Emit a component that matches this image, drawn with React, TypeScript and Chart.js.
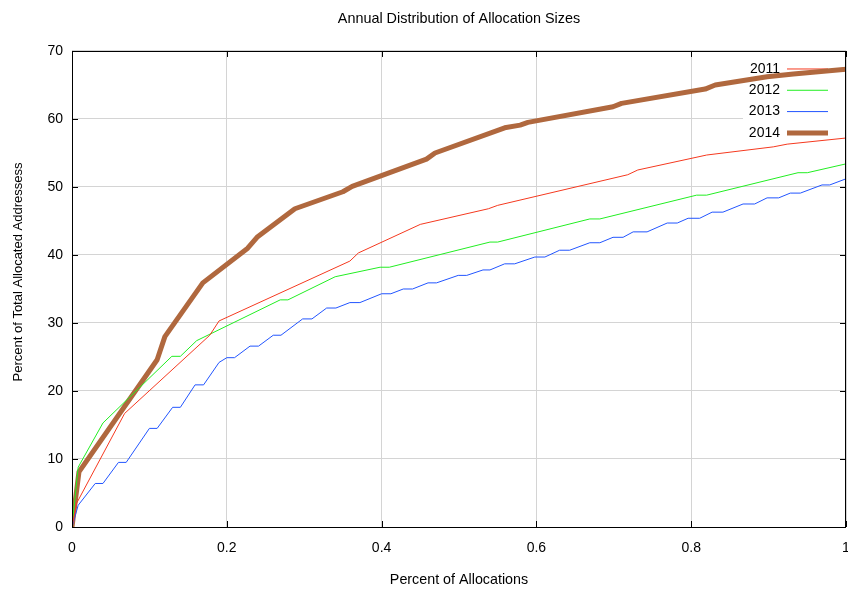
import React, { useEffect, useRef } from "react";
import { Chart, registerables } from "chart.js";

Chart.register(...registerables);

const titleText = "Annual Distribution of Allocation Sizes";
const xAxisTitle = "Percent of Allocations";
const yAxisTitle = "Percent of Total Allocated Addressess";

const seriesLabels = ["2011", "2012", "2013", "2014"];

const x2011 = [0, 0.006, 0.068, 0.178, 0.19, 0.359, 0.37, 0.45, 0.538, 0.55, 0.718, 0.731, 0.82, 0.906, 0.924, 1.0];
const y2011 = [0, 3.5, 16.7, 28.2, 30.3, 39.1, 40.3, 44.5, 46.8, 47.3, 51.8, 52.5, 54.7, 55.9, 56.3, 57.2];

const x2012 = [0, 0.008, 0.04, 0.129, 0.14, 0.161, 0.269, 0.279, 0.34, 0.398, 0.41, 0.54, 0.55, 0.669, 0.682, 0.807, 0.82, 0.938, 0.95, 1.0];
const y2012 = [0, 8.8, 15.3, 25.1, 25.1, 27.4, 33.4, 33.4, 36.8, 38.2, 38.2, 41.9, 41.9, 45.3, 45.3, 48.8, 48.8, 52.1, 52.1, 53.4];

const x2013 = [0, 0.008, 0.03, 0.04, 0.06, 0.07, 0.1, 0.11, 0.13, 0.14, 0.159, 0.17, 0.19, 0.2, 0.21, 0.23, 0.241, 0.26, 0.27, 0.298, 0.31, 0.329, 0.341, 0.359, 0.372, 0.4, 0.412, 0.428, 0.44, 0.46, 0.471, 0.499, 0.51, 0.531, 0.54, 0.559, 0.572, 0.598, 0.611, 0.63, 0.643, 0.669, 0.682, 0.699, 0.712, 0.725, 0.743, 0.769, 0.782, 0.796, 0.811, 0.827, 0.841, 0.867, 0.882, 0.898, 0.913, 0.928, 0.941, 0.969, 0.979, 1.0];
const y2013 = [0, 3.2, 6.4, 6.4, 9.5, 9.5, 14.5, 14.5, 17.6, 17.6, 20.9, 20.9, 24.2, 24.9, 24.9, 26.6, 26.6, 28.2, 28.2, 30.6, 30.6, 32.2, 32.2, 33.0, 33.0, 34.3, 34.3, 35.0, 35.0, 35.9, 35.9, 37.0, 37.0, 37.8, 37.8, 38.7, 38.7, 39.7, 39.7, 40.7, 40.7, 41.8, 41.8, 42.6, 42.6, 43.4, 43.4, 44.7, 44.7, 45.4, 45.4, 46.3, 46.3, 47.5, 47.5, 48.4, 48.4, 49.1, 49.1, 50.3, 50.3, 51.2];

const x2014 = [0, 0.009, 0.11, 0.12, 0.169, 0.227, 0.239, 0.288, 0.35, 0.362, 0.458, 0.469, 0.559, 0.579, 0.589, 0.699, 0.71, 0.818, 0.831, 0.898, 0.932, 1.0];
const y2014 = [0, 8.1, 24.6, 28.0, 35.9, 41.0, 42.6, 46.8, 49.3, 50.1, 54.1, 55.0, 58.7, 59.1, 59.5, 61.8, 62.3, 64.4, 65.0, 66.2, 66.6, 67.3];

const xTicks = [0, 0.2, 0.4, 0.6, 0.8, 1];
const yTicks = [0, 10, 20, 30, 40, 50, 60, 70];

const colors = ["#f5391f", "#22ee22", "#2255ff", "#b0683e"];
const widths = [1, 1, 1, 5];

const FONT = "'Liberation Sans', Arial, Helvetica, sans-serif";

function zip(xs: number[], ys: number[]) {
  return xs.map((x, i) => ({ x, y: ys[i] }));
}

const gnuplotFrame = {
  id: "gnuplotFrame",
  beforeDatasetsDraw(chart: any) {
    const { ctx, chartArea } = chart;
    const { left, right, top, bottom } = chartArea;
    const xs = chart.scales.x;
    const ys = chart.scales.y;
    ctx.save();
    // inward ticks on all four sides
    ctx.strokeStyle = "#000";
    ctx.lineWidth = 1;
    const tl = 6;
    ctx.beginPath();
    xTicks.forEach((v) => {
      const px = Math.round(xs.getPixelForValue(v)) + 0.5;
      ctx.moveTo(px, bottom);
      ctx.lineTo(px, bottom - tl);
      ctx.moveTo(px, top);
      ctx.lineTo(px, top + tl);
    });
    yTicks.forEach((v) => {
      const py = Math.round(ys.getPixelForValue(v)) + 0.5;
      ctx.moveTo(left, py);
      ctx.lineTo(left + tl, py);
      ctx.moveTo(right, py);
      ctx.lineTo(right - tl, py);
    });
    ctx.stroke();

    // key box (opaque)
    const keyLeft = right - 103;
    const keyTop = top + 1;
    const rowH = 21.3;
    const keyH = rowH * seriesLabels.length + 8;
    ctx.fillStyle = "#fff";
    ctx.fillRect(keyLeft, keyTop, right - keyLeft - 1, keyH);

    ctx.font = "14px " + FONT;
    ctx.textAlign = "right";
    ctx.textBaseline = "middle";
    chart.data.datasets.forEach((ds: any, i: number) => {
      const cy = top + 18 + i * rowH;
      ctx.fillStyle = "#000";
      ctx.fillText(ds.label, right - 66, cy);
      ctx.strokeStyle = ds.borderColor;
      ctx.lineWidth = ds.borderWidth;
      ctx.beginPath();
      ctx.moveTo(right - 59, cy);
      ctx.lineTo(right - 18, cy);
      ctx.stroke();
    });
    ctx.restore();
  },
  afterDraw(chart: any) {
    const { ctx, chartArea } = chart;
    ctx.save();
    ctx.strokeStyle = "#000";
    ctx.lineWidth = 1;
    ctx.strokeRect(
      Math.round(chartArea.left) + 0.5,
      Math.round(chartArea.top) + 0.5,
      Math.round(chartArea.right - chartArea.left) - 1,
      Math.round(chartArea.bottom - chartArea.top)
    );
    // y axis title (gnuplot places it slightly above the plot centre)
    ctx.translate(18, 272);
    ctx.rotate(-Math.PI / 2);
    ctx.fillStyle = "#000";
    ctx.font = "13px " + FONT;
    ctx.textAlign = "center";
    ctx.textBaseline = "middle";
    ctx.fillText(yAxisTitle, 0, 0);
    ctx.restore();
  },
};

export default function App() {
  const canvasRef = useRef<HTMLCanvasElement | null>(null);

  useEffect(() => {
    if (!canvasRef.current) return;
    const allX = [x2011, x2012, x2013, x2014];
    const allY = [y2011, y2012, y2013, y2014];
    const chart = new Chart(canvasRef.current, {
      type: "scatter",
      data: {
        datasets: seriesLabels.map((label, i) => ({
          label,
          data: zip(allX[i], allY[i]),
          showLine: true,
          borderColor: colors[i],
          backgroundColor: colors[i],
          borderWidth: widths[i],
          pointRadius: 0,
          pointHoverRadius: 0,
          tension: 0,
          borderJoinStyle: "round" as const,
          borderCapStyle: "round" as const,
        })),
      },
      options: {
        animation: false,
        responsive: false,
        maintainAspectRatio: false,
        events: [],
        layout: { padding: { left: 0, right: 2, top: 0, bottom: 0 } },
        plugins: {
          legend: { display: false },
          tooltip: { enabled: false },
          title: {
            display: true,
            text: titleText,
            fullSize: false,
            color: "#000",
            font: { family: FONT, size: 14.4, weight: "normal" },
            padding: { top: 10, bottom: 23.7 },
          },
        },
        scales: {
          x: {
            type: "linear",
            min: 0,
            max: 1,
            afterFit(scale: any) {
              scale.height = 62;
              scale.paddingLeft = 0;
              scale.paddingRight = 0;
            },
            afterBuildTicks(scale: any) {
              scale.ticks = xTicks.map((v) => ({ value: v }));
            },
            ticks: {
              color: "#000",
              font: { family: FONT, size: 14 },
              padding: 13,
              maxRotation: 0,
              callback: (v: any) => String(Number(v)),
            },
            grid: { color: "#d4d4d4", drawTicks: false, lineWidth: 1 },
            border: { display: false },
            title: {
              display: true,
              text: xAxisTitle,
              color: "#000",
              font: { family: FONT, size: 14.3 },
              padding: { top: 0, bottom: 0 },
            },
          },
          y: {
            type: "linear",
            min: 0,
            max: 70,
            afterFit(scale: any) {
              scale.width = 72;
              scale.paddingTop = 0;
              scale.paddingBottom = 0;
            },
            afterBuildTicks(scale: any) {
              scale.ticks = yTicks.map((v) => ({ value: v }));
            },
            ticks: {
              color: "#000",
              font: { family: FONT, size: 14 },
              padding: 9,
              callback: (v: any) => String(v),
            },
            grid: { color: "#d4d4d4", drawTicks: false, lineWidth: 1 },
            border: { display: false },
            title: { display: false, text: yAxisTitle },
          },
        },
      },
      plugins: [gnuplotFrame],
    });
    return () => chart.destroy();
  }, []);

  return (
    <div style={{ position: "fixed", left: 0, top: 0, width: 848, height: 589, background: "#fff" }}>
      <canvas ref={canvasRef} width={848} height={589} style={{ display: "block", width: 848, height: 589 }} />
    </div>
  );
}
